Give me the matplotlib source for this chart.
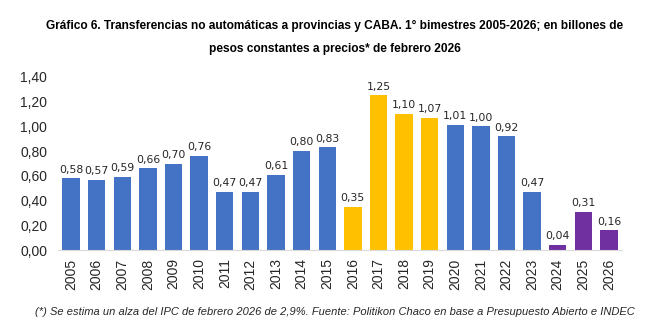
import matplotlib.pyplot as plt
import numpy as np

years = [str(y) for y in range(2005, 2027)]
values = [0.58, 0.57, 0.59, 0.66, 0.70, 0.76, 0.47, 0.47, 0.61, 0.80, 0.83,
          0.35, 1.25, 1.10, 1.07, 1.01, 1.00, 0.92, 0.47, 0.04, 0.31, 0.16]
groups = ['b'] * 11 + ['y'] * 4 + ['b'] * 4 + ['p'] * 3

palette = {'b': '#4472C4', 'y': '#FFC000', 'p': '#7030A0'}
colors = [palette[g] for g in groups]

title = ('Gráfico 6. Transferencias no automáticas a provincias y CABA. 1° bimestres 2005-2026; en billones de\n'
         'pesos constantes a precios* de febrero 2026')
note = '(*) Se estima un alza del IPC de febrero 2026 de 2,9%. Fuente: Politikon Chaco en base a Presupuesto Abierto e INDEC'

fam = ['Liberation Sans', 'DejaVu Sans']

fig = plt.figure(figsize=(6.7, 3.3), dpi=100)
ax = fig.add_axes([0.087, 0.242, 0.841, 0.525])

x = np.arange(len(years))
ax.bar(x, values, width=0.68, color=colors)

for xi, v in zip(x, values):
    ax.text(xi, v + 0.03, f'{v:.2f}'.replace('.', ','), ha='center', va='bottom',
            fontsize=7.8, color='#262626')

ax.set_xlim(-0.5, len(years) - 0.5)
ax.set_ylim(0, 1.40)
ax.set_yticks(np.arange(0, 1.41, 0.2))
ax.set_yticklabels([f'{t:.2f}'.replace('.', ',') for t in np.arange(0, 1.41, 0.2)])
ax.set_xticks(x)
ax.set_xticklabels(years, rotation=90)

for s in ['top', 'right', 'left']:
    ax.spines[s].set_visible(False)
ax.spines['bottom'].set_color('#D9D9D9')
ax.tick_params(axis='both', length=0, labelsize=10, colors='#262626')
ax.tick_params(axis='x', pad=6)
ax.tick_params(axis='y', pad=8)
for label in ax.get_xticklabels() + ax.get_yticklabels():
    label.set_family(fam)

fig.text(0.5, 0.94, title, ha='center', va='top', fontsize=8.6, fontweight='bold',
         family=fam, linespacing=2.2)
fig.text(0.5, 0.055, note, ha='center', va='center', fontsize=8.05, style='italic',
         family=fam, color='#262626')

fig.savefig('out.png', dpi=100)
